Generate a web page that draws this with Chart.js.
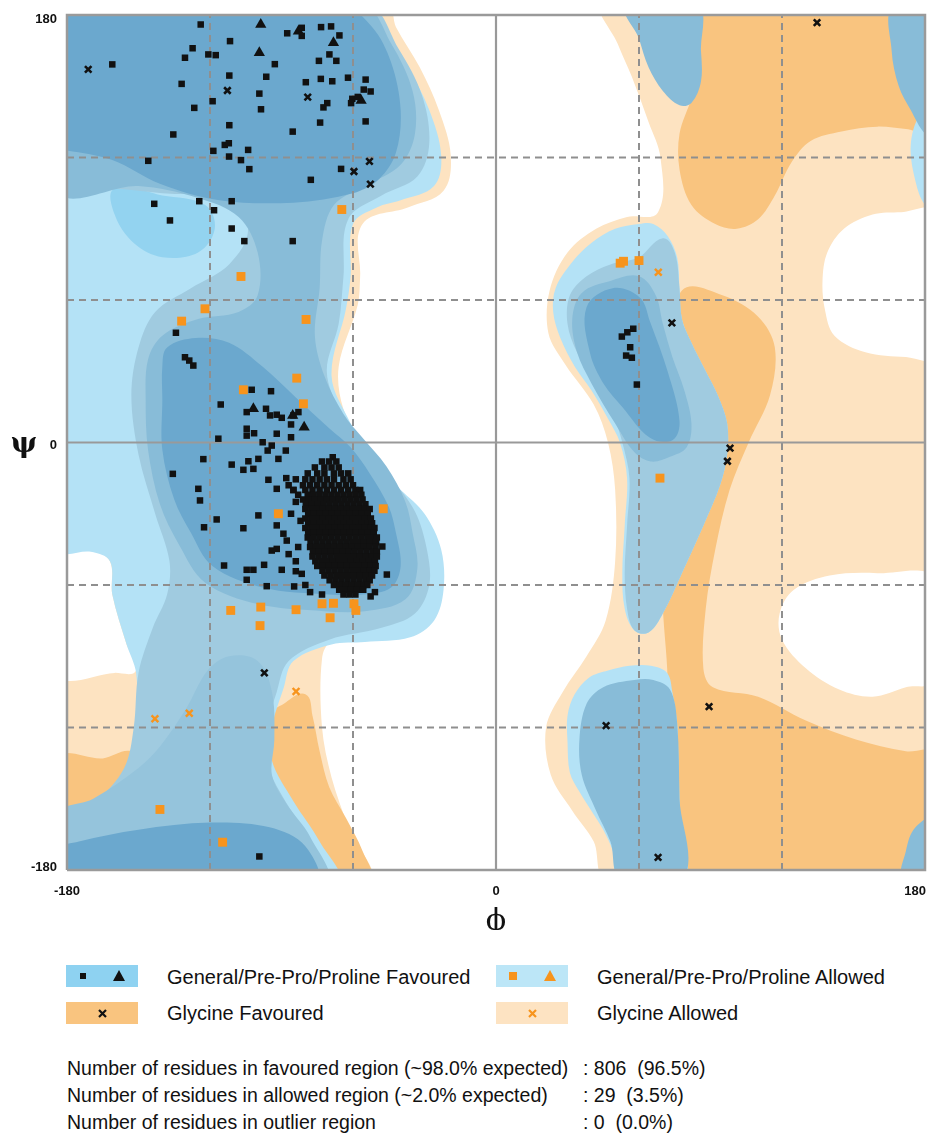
<!DOCTYPE html>
<html>
<head>
<meta charset="utf-8">
<script src="https://cdn.jsdelivr.net/npm/chart.js@4.4.1/dist/chart.umd.min.js"></script>
<style>
  html, body { margin: 0; padding: 0; background: #fff; }
  body { width: 935px; height: 1142px; position: relative; overflow: hidden;
         font-family: "Liberation Sans", Arial, Helvetica, sans-serif; color: #111; }
  #plot { position: absolute; left: 0; top: 0; }
  .sw { position: absolute; width: 72px; height: 22px; }
  .sw svg { position: absolute; left: 0; top: 0; }
  .lt { position: absolute; font-size: 20px; line-height: 24px; white-space: pre; }
  .st { position: absolute; font-size: 19.5px; line-height: 24px; white-space: pre; }
</style>
</head>
<body>
<canvas id="plot" width="935" height="930"></canvas>

<div class="sw" style="left:66px;top:965px;background:#8ed2f1">
  <svg width="72" height="22"><rect x="14" y="8" width="6" height="6" fill="#111"/><polygon points="53,5 59,16 47,16" fill="#111"/></svg>
</div>
<div class="lt" style="left:167px;top:965px">General/Pre-Pro/Proline Favoured</div>
<div class="sw" style="left:496px;top:965px;background:#bce6f7">
  <svg width="72" height="22"><rect x="13" y="7" width="8" height="8" fill="#f7941d"/><polygon points="54,5 60,16 48,16" fill="#f7941d"/></svg>
</div>
<div class="lt" style="left:597px;top:965px">General/Pre-Pro/Proline Allowed</div>

<div class="sw" style="left:66px;top:1002px;background:#f9c47f">
  <svg width="72" height="22"><path d="M33,8 L40,15 M40,8 L33,15" stroke="#111" stroke-width="2.2"/></svg>
</div>
<div class="lt" style="left:167px;top:1001px">Glycine Favoured</div>
<div class="sw" style="left:496px;top:1002px;background:#fde3c2">
  <svg width="72" height="22"><path d="M33,8 L40,15 M40,8 L33,15" stroke="#f7941d" stroke-width="2.2"/></svg>
</div>
<div class="lt" style="left:597px;top:1001px">Glycine Allowed</div>

<div class="st" style="left:67px;top:1056px">Number of residues in favoured region (~98.0% expected)</div>
<div class="st" style="left:583px;top:1056px">: 806  (96.5%)</div>
<div class="st" style="left:67px;top:1083px">Number of residues in allowed region (~2.0% expected)</div>
<div class="st" style="left:583px;top:1083px">: 29  (3.5%)</div>
<div class="st" style="left:67px;top:1110px">Number of residues in outlier region</div>
<div class="st" style="left:583px;top:1110px">: 0  (0.0%)</div>

<script>
// ---- axes ----
const phiTicks = [-180, 0, 180];
const psiTicks = [-180, 0, 180];
const dashedGrid = [-120, -60, 60, 120];

// ---- residues [phi, psi] ----
const generalFavoured = [
  // beta region
  [-123.9,176.0],[-111.6,169.0],[-127.3,166.0],[-130.5,162.0],[-120.7,163.4],[-117.6,163.1],[-161.0,159.2],
  [-92.8,159.3],[-111.9,154.5],[-96.4,154.0],[-131.9,151.0],[-99.3,146.9],[-118.9,143.7],[-126.6,140.9],
  [-98.6,140.3],[-111.9,133.6],[-135.4,129.7],[-85.3,130.9],[-113.8,125.3],[-112.1,126.0],[-118.6,122.8],
  [-104.0,123.2],[-112.0,120.4],[-107.0,118.9],[-103.5,115.1],[-145.9,118.6],[-143.4,100.5],[-124.5,101.6],
  [-110.9,101.6],[-118.3,97.8],[-136.8,93.5],[-110.9,90.1],[-105.6,84.8],[-85.3,84.8],[-87.6,172.3],
  [-81.5,174.6],[-81.5,171.2],[-73.4,174.9],[-69.2,175.2],[-65.7,171.4],[-69.9,163.4],[-74.3,160.7],
  [-67.0,160.7],[-79.8,151.7],[-73.5,153.1],[-68.7,152.1],[-62.1,153.6],[-54.7,152.8],[-55.5,148.6],
  [-52.6,147.8],[-60.3,144.7],[-60.8,142.9],[-70.8,142.9],[-72.4,141.1],[-73.8,134.7],[-54.7,135.2],
  [-65.0,115.2],[-77.7,110.6],[-58.0,145.5],
  // alpha region, scattered
  [-134.3,46.2],[-130.5,35.9],[-128.7,34.5],[-127.0,32.4],[-102.5,22.2],[-94.4,21.6],[-115.5,16.0],
  [-104.6,12.8],[-96.5,14.2],[-94.8,11.4],[-92.0,11.7],[-89.9,10.4],[-85.0,11.4],[-82.9,12.8],
  [-104.6,5.8],[-104.6,2.9],[-101.5,3.9],[-92.0,3.7],[-86.0,2.2],[-86.0,7.6],[-116.5,1.6],[-97.9,0.1],
  [-94.1,-1.3],[-95.8,-3.4],[-88.2,-3.4],[-91.3,-6.9],[-68.5,-6.2],[-122.8,-7.0],[-110.9,-9.3],
  [-103.9,-7.9],[-99.7,-6.9],[-106.0,-11.5],[-101.8,-11.1],[-135.6,-13.2],[-95.5,-15.7],[-92.0,-19.5],
  [-124.9,-19.5],[-124.2,-24.4],[-99.7,-30.7],[-117.2,-32.4],[-122.5,-35.7],[-106.0,-36.1],[-92.0,-34.9],
  [-114.1,-51.8],[-97.3,-51.5],[-104.6,-53.6],[-101.8,-53.6],[-89.9,-53.6],[-104.6,-57.8],[-96.2,-60.5],
  [-84.7,-60.6],[-84.0,-54.2],[-81.5,-55.3],[-89.2,-38.4],[-87.8,-41.3],[-92.0,-44.8],[-94.1,-45.5],
  [-52.8,-35.7],[-47.7,-43.8],[-45.8,-55.6],[-50.8,-63.0],[-52.6,-64.8],[-55.7,-62.0],
  [-88,-15],[-85,-20],[-84,-25],[-86,-30],[-82,-33],[-87,-47],[-84,-50],[-83,-44],[-80,-60],[-78,-63],[-73,-64],
  // alpha helix cluster
  [-73,-8],[-70,-8],[-67,-8],
  [-76,-10.5],[-72,-10.5],[-69,-10.5],[-66,-10.5],
  [-79,-13],[-75,-13],[-72,-13],[-68,-13],[-65,-13],[-62,-13],
  [-84,-15.5],[-80,-15.5],[-77,-15.5],[-74,-15.5],[-71,-15.5],[-68,-15.5],[-64,-15.5],[-61,-15.5],
  [-87,-18],[-81,-18],[-78,-18],[-75,-18],[-72,-18],[-69,-18],[-66,-18],[-63,-18],[-60,-18],
  [-85,-20],[-80,-20],[-77,-20],[-74,-20],[-71,-20],[-68,-20],[-65,-20],[-62,-20],[-59,-20],[-57,-20],
  [-83,-22],[-79,-22],[-76.5,-22],[-74,-22],[-71.5,-22],[-69,-22],[-66.5,-22],[-64,-22],[-61.5,-22],[-59,-22],[-56.5,-22],
  [-81,-24],[-78.5,-24],[-76,-24],[-73.5,-24],[-71,-24],[-68.5,-24],[-66,-24],[-63.5,-24],[-61,-24],[-58.5,-24],[-56,-24],
  [-79.8,-26],[-77.3,-26],[-74.8,-26],[-72.3,-26],[-69.8,-26],[-67.3,-26],[-64.8,-26],[-62.3,-26],[-59.8,-26],[-57.3,-26],[-54.8,-26],
  [-80,-28],[-77.5,-28],[-75,-28],[-72.5,-28],[-70,-28],[-67.5,-28],[-65,-28],[-62.5,-28],[-60,-28],[-57.5,-28],[-55,-28],[-53,-28],
  [-78.8,-30],[-76.3,-30],[-73.8,-30],[-71.3,-30],[-68.8,-30],[-66.3,-30],[-63.8,-30],[-61.3,-30],[-58.8,-30],[-56.3,-30],[-53.8,-30],
  [-80,-32],[-77.5,-32],[-75,-32],[-72.5,-32],[-70,-32],[-67.5,-32],[-65,-32],[-62.5,-32],[-60,-32],[-57.5,-32],[-55,-32],[-52.5,-32],
  [-78.8,-34],[-76.3,-34],[-73.8,-34],[-71.3,-34],[-68.8,-34],[-66.3,-34],[-63.8,-34],[-61.3,-34],[-58.8,-34],[-56.3,-34],[-53.8,-34],[-52,-34],
  [-80,-36],[-77.5,-36],[-75,-36],[-72.5,-36],[-70,-36],[-67.5,-36],[-65,-36],[-62.5,-36],[-60,-36],[-57.5,-36],[-55,-36],[-52.5,-36],[-51,-36],
  [-78.8,-38],[-76.3,-38],[-73.8,-38],[-71.3,-38],[-68.8,-38],[-66.3,-38],[-63.8,-38],[-61.3,-38],[-58.8,-38],[-56.3,-38],[-53.8,-38],[-51.3,-38],
  [-79,-40],[-76.5,-40],[-74,-40],[-71.5,-40],[-69,-40],[-66.5,-40],[-64,-40],[-61.5,-40],[-59,-40],[-56.5,-40],[-54,-40],[-51.5,-40],[-50,-40],
  [-77.8,-42],[-75.3,-42],[-72.8,-42],[-70.3,-42],[-67.8,-42],[-65.3,-42],[-62.8,-42],[-60.3,-42],[-57.8,-42],[-55.3,-42],[-52.8,-42],[-50.3,-42],
  [-78,-44],[-75.5,-44],[-73,-44],[-70.5,-44],[-68,-44],[-65.5,-44],[-63,-44],[-60.5,-44],[-58,-44],[-55.5,-44],[-53,-44],[-50.5,-44],
  [-76.8,-46],[-74.3,-46],[-71.8,-46],[-69.3,-46],[-66.8,-46],[-64.3,-46],[-61.8,-46],[-59.3,-46],[-56.8,-46],[-54.3,-46],[-51.8,-46],[-50,-46],
  [-77,-48],[-74.5,-48],[-72,-48],[-69.5,-48],[-67,-48],[-64.5,-48],[-62,-48],[-59.5,-48],[-57,-48],[-54.5,-48],[-52,-48],[-50,-48],
  [-75.8,-50],[-73.3,-50],[-70.8,-50],[-68.3,-50],[-65.8,-50],[-63.3,-50],[-60.8,-50],[-58.3,-50],[-55.8,-50],[-53.3,-50],[-50.8,-50],
  [-75,-52],[-72.5,-52],[-70,-52],[-67.5,-52],[-65,-52],[-62.5,-52],[-60,-52],[-57.5,-52],[-55,-52],[-52.5,-52],[-50.5,-52],
  [-72.8,-54],[-70.3,-54],[-67.8,-54],[-65.3,-54],[-62.8,-54],[-60.3,-54],[-57.8,-54],[-55.3,-54],[-52.8,-54],[-51,-54],
  [-72,-56],[-69.5,-56],[-67,-56],[-64.5,-56],[-62,-56],[-59.5,-56],[-57,-56],[-54.5,-56],[-52,-56],
  [-69.8,-58],[-67.3,-58],[-64.8,-58],[-62.3,-58],[-59.8,-58],[-57.3,-58],[-54.8,-58],[-53,-58],
  [-68,-60],[-65.5,-60],[-63,-60],[-60.5,-60],[-58,-60],[-55.5,-60],[-54,-60],
  [-65.8,-62],[-63.3,-62],[-60.8,-62],[-58.3,-62],[-56,-62],
  [-64,-64],[-61.5,-64],[-59,-64],
  // left-handed region and lower left
  [57.6,47.9],[55.1,46.4],[52.8,44.6],[56.3,40.1],[54.6,36.6],[57.0,35.7],[59.1,24.4],
  [-99.3,-174.3]
];
const favouredTriangles = [
  [-98.7,176.0],[-68.2,168.3],[-99.3,164.1],[-56.6,144.0],[-82.9,173.2],
  [-101.8,14.2],[-85.3,11.4],[-80.5,6.4]
];
const glycineFavoured = [
  [-171.1,157.1],[-112.7,148.2],[-79.0,145.4],[-53.1,118.4],[-59.6,114.1],[-52.7,108.8],[-97.2,-97.0],
  [73.8,50.4],[98.2,-2.4],[97.1,-7.9],[134.7,176.8],[46.2,-119.2],[89.4,-111.2],[68.0,-174.7]
];
const generalAllowed = [
  [-64.7,98.1],[-107.0,69.9],[-122.1,56.3],[-131.9,51.1],[-79.7,51.8],[-83.6,27.1],[-106.0,22.2],
  [-80.8,16.3],[-47.3,-27.9],[-91.3,-30.0],[-111.3,-70.7],[-98.7,-69.3],[-99.0,-77.1],[-83.9,-70.4],
  [-73.0,-67.9],[-68.2,-67.7],[-69.6,-73.8],[-59.6,-67.9],[-58.8,-70.7],[-141.0,-154.5],[-114.7,-168.3],
  [52.1,75.5],[53.5,76.3],[60.0,76.6],[68.8,-15.0]
];
const glycineAllowed = [
  [-143.1,-116.3],[-128.7,-114.0],[-83.9,-104.8],[68.1,71.7]
];

// ---- region outlines [phi, psi] ----
const glyAllowedLeft = [[-185,185],[-46,185],[-42,175],[-32,158],[-24,140],[-19,121],[-22,106],[-37,99],[-56,92],
  [-57,70],[-58,58],[-66,32],[-64,14],[-56,0],[-44,-15],[-36,-26],[-30,-33],[-25,-45],[-25,-62],[-30,-75],[-45,-82],
  [-69,-84],[-73,-91],[-73,-120],[-69,-141],[-62,-162],[-54,-185],[-185,-185]];
const glyAllowedRight = [[45,185],[51,168],[57,154],[64,135],[69,120],[68,97],[55,95],[42,90],[30,80],[22.5,64],
  [22,46],[29,33],[41,16],[47,0],[50,-20],[50,-50],[46,-75],[38,-90],[28,-105],[21,-120],[23,-140],[32,-155],
  [41,-168],[47,-185],[185,-185],[185,185]];
const glyFavLeftLow = [[-185,-133],[-165,-133],[-153,-130],[-151,-137],[-158,-147],[-168,-153],[-185,-160]];
const glyFavLeftMid = [[-89,-110],[-80,-106],[-77,-115],[-74,-130],[-70,-145],[-63,-158],[-56,-172],[-53,-185],
  [-72,-185],[-80,-165],[-90,-148],[-95,-130],[-95,-115]];
const glyFavRightTop = [[84,185],[86,160],[82,145],[77,130],[77,115],[82,100],[92,92],[101,90],[110,94],[117,104],
  [124,118],[132,127],[145,131],[160,133],[172,132],[185,131],[185,185]];
const glyFavRightMid = [[78,64],[95,62],[110,53],[117,40],[115,20],[106,0],[98,-20],[92,-45],[88,-70],[87,-95],
  [91,-103],[110,-107],[130,-117],[151,-125],[172,-130],[185,-131],[185,-185],[72,-185],[72,-100],[70,-60],
  [75,-30],[85,-5],[88,20],[80,45]];
const emptyLeft = [[-185,-44],[-170,-45],[-162,-50],[-161,-64],[-155,-85],[-151,-96],[-160,-97],[-185,-97]];
const emptyRightUpper = [[185,97],[170,97],[158,96],[146,90],[139,80],[137,68],[138,56],[142,45],[155,38],[172,36],[185,36]];
const emptyRightLower = [[185,-58],[160,-55],[140,-56],[125,-62],[119,-72],[120,-83],[130,-95],[144,-104],
  [158,-107],[172,-103],[185,-100]];

const allowedLeft = [[-185,185],[-52,185],[-48,175],[-37,158],[-28,140],[-23,121],[-26,108],[-40,102],[-50,99],
  [-60,92],[-61,70],[-63,56],[-69,28],[-61,8],[-53,-8],[-40,-20],[-30,-30],[-23,-45],[-22,-62],[-26,-75],[-36,-82],
  [-55,-84],[-69,-85],[-85,-92],[-89,-103],[-94,-120],[-94,-134],[-85,-151],[-74,-168],[-67,-185],[-185,-185],
  [-185,-162],[-180,-160],[-166,-150],[-155,-136],[-151,-120],[-151,-97],[-155,-85],[-161,-64],[-162,-50],
  [-170,-46],[-185,-45]];
const allowedRightEdge = [[185,140],[178,138],[174,125],[176,110],[180,100],[185,98]];
const alphaLOuter = [[60,92],[50,90],[40,84],[32,76],[25,65],[24,55],[27,44],[33,32],[40,22],[47,10],[52,0],
  [55,-15],[54,-35],[53,-55],[54,-70],[58,-79],[64,-80],[70,-72],[78,-55],[87,-35],[94,-18],[97,-5],[97,8],
  [93,20],[88,30],[82,42],[78,52],[77,65],[76,78],[72,87],[66,92]];
const lowBlobOuter = [[56,-94],[47,-96],[39,-99],[33,-106],[30,-115],[30,-126],[31,-139],[35,-147],[40,-155],
  [45,-163],[49,-172],[52,-185],[78.5,-185],[77.5,-165],[77,-150],[76.5,-130],[76,-118],[74,-105],[71.8,-97],[65,-94]];
const skyBand = [[-160,107],[-140,104],[-122,100],[-118,90],[-125,80],[-140,78],[-152,84],[-160,96]];

const midLeft = [[-185,185],[-55,185],[-41,166],[-31,146],[-28,126],[-33,112],[-48,104],[-62,94],[-64,70],
  [-66,50],[-71,30],[-65,12],[-56,-1],[-44,-15],[-34,-29],[-29,-45],[-28,-60],[-34,-72],[-48,-78],[-70,-83],
  [-87,-92],[-92,-105],[-96,-120],[-96,-135],[-89,-150],[-79,-166],[-72,-185],[-185,-185],[-185,-160],
  [-168,-151],[-156,-137],[-152,-120],[-150,-97],[-144,-78],[-138,-64],[-137,-50],[-143,-30],[-150,-5],
  [-153,20],[-150,40],[-143,55],[-128,65],[-112,75],[-104,90],[-112,102],[-140,105],[-160,107],[-185,108]];
const alphaLMid = [[70,86],[60,78],[48,75],[38,70],[31,62],[30,50],[34,38],[42,25],[49,12],[53,0],[56,-15],
  [55,-35],[54,-55],[55,-70],[58,-79],[64,-80],[70,-72],[78,-55],[87,-35],[94,-18],[97,-5],[97,8],[93,20],
  [88,30],[82,42],[78,52],[77,65],[75,80]];

const innerLeft = [[-185,185],[-57,185],[-44,168],[-35,148],[-34,130],[-40,117],[-55,108],[-68,100],[-73,85],
  [-74,65],[-76,45],[-72,28],[-64,12],[-56,2],[-46,-10],[-38,-25],[-35,-38],[-33,-53],[-38,-66],[-55,-71],
  [-72,-71],[-100,-68],[-122,-59],[-133,-43],[-141,-26],[-146,-3],[-147,18],[-146,35],[-140,45],[-125,52],
  [-108,55],[-100,62],[-100,80],[-108,95],[-125,103],[-150,108],[-185,107]];
const innerLeftLow = [[-185,-157],[-169,-150],[-150,-137],[-141,-128],[-130,-112],[-121,-96],[-112,-90],
  [-100,-92],[-94,-105],[-93,-125],[-94,-140],[-88,-152],[-78,-166],[-72,-185],[-185,-185]];
const topBlobRight = [[55,185],[60,170],[64,158],[70,148],[77,142],[82,143],[86,152],[86,165],[84,185]];
const lowBlobInner = [[58,-100],[45,-103],[38,-110],[35,-125],[36,-140],[42,-155],[48,-168],[53,-185],
  [78,-185],[77,-150],[76,-118],[73,-104],[66,-100]];
const rightEdgeTop = [[167,185],[166,165],[169,150],[174,140],[180,130],[185,128],[185,185]];
const rightCornerLow = [[185,-158],[176,-162],[172,-172],[171,-185],[185,-185]];
const alphaLInner = [[60,70],[48,68],[36,63],[32,52],[34,38],[40,25],[50,8],[58,-4],[65,-8],[73,-6],[80,-2],
  [82,8],[79,22],[74,36],[70,50],[67,62]];

const coreBeta = [[-185,123],[-180,123],[-161,119],[-141,109],[-116,102],[-85,101],[-60,105],[-49,111],
  [-42,122],[-40,140],[-44,160],[-52,175],[-66,185],[-185,185]];
const coreAlpha = [[-138,40],[-126,44],[-112,42],[-98,32],[-84,19],[-70,6],[-61,-2],[-53,-13],[-45,-27],
  [-42,-38],[-40,-52],[-44,-61],[-56,-64],[-70,-64],[-98,-61],[-119,-52],[-128,-38],[-135,-24],[-140,-3],
  [-140,18],[-140,32]];
const coreBottom = [[-185,-172],[-175,-168],[-150,-163],[-120,-160],[-95,-162],[-80,-170],[-76,-185],[-185,-185]];
const coreAlphaL = [[49,65],[38,57],[39.5,37.5],[45,25],[53,15],[64.6,2],[74,1],[77,9],[72,30],[64.6,51],[60.4,61]];

// ---- palette ----
const C = {
  glyAllowed: '#fde3c1', glyFav: '#f9c47f', empty: '#ffffff',
  allowed: '#b4e2f6', sky: '#93d3f0', mid: '#a0cbe0', stem: '#95c4dc', inner: '#88bcd8', core: '#6ba8ce',
  grid: '#8f8f8f', dot: '#111111', orange: '#f7941d'
};

const regionLayers = [
  [glyAllowedLeft, C.glyAllowed], [glyAllowedRight, C.glyAllowed],
  [glyFavLeftLow, C.glyFav], [glyFavLeftMid, C.glyFav], [glyFavRightTop, C.glyFav], [glyFavRightMid, C.glyFav],
  [emptyLeft, C.empty], [emptyRightUpper, C.empty], [emptyRightLower, C.empty],
  [allowedLeft, C.allowed], [allowedRightEdge, C.allowed], [alphaLOuter, C.allowed], [lowBlobOuter, C.allowed],
  [skyBand, C.sky],
  [midLeft, C.mid], [alphaLMid, C.mid],
  [innerLeft, C.inner], [innerLeftLow, C.stem], [topBlobRight, C.inner], [lowBlobInner, C.inner],
  [rightEdgeTop, C.inner], [rightCornerLow, C.inner], [alphaLInner, C.inner],
  [coreBeta, C.core], [coreAlpha, C.core], [coreBottom, C.core], [coreAlphaL, C.core]
];

const toXY = arr => arr.map(([x, y]) => ({x, y}));

const datasets = [];
// residues on top (lowest order is drawn last)
datasets.push({ data: toXY(generalFavoured), pointStyle: 'rect', pointRadius: 4.6, pointBorderWidth: 0,
  pointBackgroundColor: C.dot, order: 0 });
datasets.push({ data: toXY(favouredTriangles), pointStyle: 'triangle', pointRadius: 6.5, pointBorderWidth: 0,
  pointBackgroundColor: C.dot, order: 0 });
datasets.push({ data: toXY(glycineFavoured), pointStyle: 'crossRot', pointRadius: 4.6, pointBorderWidth: 2.6,
  pointBorderColor: C.dot, order: 0 });
datasets.push({ data: toXY(generalAllowed), pointStyle: 'rect', pointRadius: 6.3, pointBorderWidth: 0,
  pointBackgroundColor: C.orange, order: 0 });
datasets.push({ data: toXY(glycineAllowed), pointStyle: 'crossRot', pointRadius: 4.8, pointBorderWidth: 2.4,
  pointBorderColor: C.orange, order: 0 });

// reference lines
dashedGrid.forEach(v => {
  datasets.push({ data: toXY([[v,-180],[v,180]]), showLine: true, pointRadius: 0, borderColor: C.grid,
    borderWidth: 2, borderDash: [7,5], order: 5 });
  datasets.push({ data: toXY([[-180,v],[180,v]]), showLine: true, pointRadius: 0, borderColor: C.grid,
    borderWidth: 2, borderDash: [7,5], order: 5 });
});
datasets.push({ data: toXY([[0,-180],[0,180]]), showLine: true, pointRadius: 0, borderColor: '#999',
  borderWidth: 2.2, order: 4 });
datasets.push({ data: toXY([[-180,0],[180,0]]), showLine: true, pointRadius: 0, borderColor: '#999',
  borderWidth: 2.2, order: 4 });
datasets.push({ data: toXY([[-180,-180],[180,-180],[180,180],[-180,180],[-180,-180]]), showLine: true,
  pointRadius: 0, borderColor: '#9a9a9a', borderWidth: 2.5, clip: 4, order: 3 });

// filled regions, first listed lies lowest
regionLayers.forEach(([pts, color], i) => {
  datasets.push({ data: toXY(pts), region: true, backgroundColor: color, pointRadius: 0,
    showLine: false, order: 1000 - i });
});

// smooth closed outline through the positioned points; tangent length follows
// each segment so long straight edges do not bulge past their ends
const regionFill = {
  id: 'regionFill',
  beforeDatasetDraw(chart, args) {
    const ds = chart.data.datasets[args.index];
    if (!ds.region) return;
    const p = args.meta.data, n = p.length;
    const a = chart.chartArea, ctx = chart.ctx;
    const unit = (q, r) => { const dx = r.x - q.x, dy = r.y - q.y, l = Math.hypot(dx, dy) || 1; return [dx / l, dy / l]; };
    ctx.save();
    ctx.beginPath();
    ctx.rect(a.left, a.top, a.right - a.left, a.bottom - a.top);
    ctx.clip();
    ctx.beginPath();
    ctx.moveTo(p[0].x, p[0].y);
    for (let i = 0; i < n; i++) {
      const p0 = p[(i - 1 + n) % n], p1 = p[i], p2 = p[(i + 1) % n], p3 = p[(i + 2) % n];
      const len = Math.hypot(p2.x - p1.x, p2.y - p1.y) / 3;
      const t1 = unit(p0, p2), t2 = unit(p1, p3);
      ctx.bezierCurveTo(p1.x + t1[0] * len, p1.y + t1[1] * len,
                        p2.x - t2[0] * len, p2.y - t2[1] * len, p2.x, p2.y);
    }
    ctx.closePath();
    ctx.fillStyle = ds.backgroundColor;
    ctx.fill();
    ctx.restore();
    return false;
  }
};

// tick values and axis symbols
const axisText = {
  id: 'axisText',
  afterDraw(chart) {
    const {ctx} = chart, xs = chart.scales.x, ys = chart.scales.y;
    ctx.save();
    ctx.fillStyle = '#111';
    ctx.font = 'bold 13px "Liberation Sans", Arial, sans-serif';
    ctx.textBaseline = 'middle';
    ctx.textAlign = 'right';
    psiTicks.forEach(v => {
      const dy = v === 180 ? 4 : (v === -180 ? -3 : 3);
      ctx.fillText(String(v), xs.left - 10, ys.getPixelForValue(v) + dy);
    });
    phiTicks.forEach(v => {
      ctx.textAlign = v === 180 ? 'right' : 'center';
      const px = xs.getPixelForValue(v) + (v === 180 ? 1 : 0);
      ctx.fillText(String(v), px, ys.bottom + 21);
    });
    ctx.font = 'bold 28px "DejaVu Serif", "Liberation Serif", serif';
    ctx.textAlign = 'center';
    ctx.fillText('ψ', 24, ys.getPixelForValue(0) + 2);
    ctx.font = '30px "DejaVu Serif", "Liberation Serif", serif';
    ctx.fillText('\u03D5', xs.getPixelForValue(0), ys.bottom + 52);
    ctx.restore();
  }
};

new Chart(document.getElementById('plot'), {
  type: 'scatter',
  data: { datasets },
  options: {
    responsive: false,
    animation: false,
    events: [],
    layout: { padding: { left: 67, top: 15, right: 10, bottom: 60 } },
    scales: {
      x: { type: 'linear', min: -180, max: 180, display: false },
      y: { type: 'linear', min: -180, max: 180, display: false }
    },
    plugins: { legend: { display: false }, tooltip: { enabled: false } }
  },
  plugins: [regionFill, axisText]
});
</script>
</body>
</html>
